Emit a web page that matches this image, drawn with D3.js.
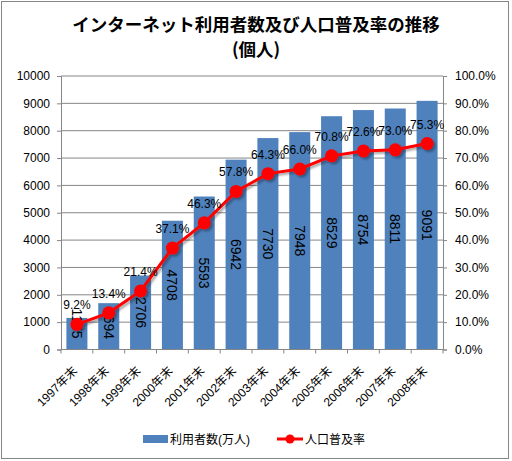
<!DOCTYPE html>
<html>
<head>
<meta charset="utf-8">
<script src="https://cdn.jsdelivr.net/npm/d3@7"></script>
<style>
body { margin: 0; background: #fff; }
text { font-family: "Liberation Sans", Arial, "Noto Sans CJK JP", sans-serif; }
</style>
</head>
<body>
<script>
// data
var years = ["1997年末","1998年末","1999年末","2000年末","2001年末","2002年末",
             "2003年末","2004年末","2005年末","2006年末","2007年末","2008年末"];
var users = [1155, 1694, 2706, 4708, 5593, 6942, 7730, 7948, 8529, 8754, 8811, 9091];
var rates = [9.2, 13.4, 21.4, 37.1, 46.3, 57.8, 64.3, 66.0, 70.8, 72.6, 73.0, 75.3];
var leftTicks = [0,1000,2000,3000,4000,5000,6000,7000,8000,9000,10000];
var rightTicks = [0,10,20,30,40,50,60,70,80,90,100];

var width = 512, height = 461;
// plot area edges (window.top is reserved, so use own names)
var plotLeft = 61, plotRight = 443, plotTop = 76, plotBottom = 349.5;
var barColor = "#4F81BD", lineColor = "#FF0000", grey = "#868686";

var svg = d3.select("body").append("svg")
    .attr("width", width)
    .attr("height", height);

var defs = svg.append("defs");
defs.append("filter").attr("id", "shadow")
    .attr("x", "-20%").attr("y", "-20%").attr("width", "140%").attr("height", "140%")
    .append("feDropShadow")
    .attr("dx", 2).attr("dy", 2).attr("stdDeviation", 1.2)
    .attr("flood-color", "#000").attr("flood-opacity", 0.35);

// chart border
svg.append("rect")
    .attr("x", 1.5).attr("y", 1.5)
    .attr("width", 507).attr("height", 457)
    .attr("fill", "#fff").attr("stroke", grey);

// title
svg.append("text")
    .attr("x", 256).attr("y", 31)
    .attr("text-anchor", "middle")
    .style("font-family", "'Noto Sans CJK JP', sans-serif")
    .style("font-size", "17.5px").style("font-weight", "bold")
    .text("インターネット利用者数及び人口普及率の推移");
svg.append("text")
    .attr("x", 256).attr("y", 56)
    .attr("text-anchor", "middle")
    .style("font-family", "'Noto Sans CJK JP', sans-serif")
    .style("font-size", "17.5px").style("font-weight", "bold")
    .text("(個人)");

var x = d3.scaleBand().domain(years).range([plotLeft, plotRight]).paddingInner(0.34).paddingOuter(0.17);
var xBand = d3.scaleBand().domain(years).range([plotLeft, plotRight]);
var y = d3.scaleLinear().domain([0, 10000]).range([plotBottom, plotTop]);
var y2 = d3.scaleLinear().domain([0, 100]).range([plotBottom, plotTop]);

// gridlines
svg.append("g").selectAll("line")
    .data(leftTicks.slice(1))
    .enter().append("line")
    .attr("x1", plotLeft).attr("x2", plotRight)
    .attr("y1", function(d){ return y(d); })
    .attr("y2", function(d){ return y(d); })
    .attr("stroke", grey).attr("stroke-width", 1);

// left axis
var yAxis = svg.append("g")
    .attr("transform", "translate(" + plotLeft + ",0)")
    .call(d3.axisLeft(y).tickValues(leftTicks).tickSize(4).tickPadding(7)
        .tickFormat(d3.format("d")));
yAxis.selectAll("line, path").attr("stroke", grey);
yAxis.selectAll("text").style("font-size", "12px").attr("fill", "#000");

// right axis
var y2Axis = svg.append("g")
    .attr("transform", "translate(" + plotRight + ",0)")
    .call(d3.axisRight(y2).tickValues(rightTicks).tickSize(4).tickPadding(8)
        .tickFormat(function(d){ return d3.format(".1f")(d) + "%"; }));
y2Axis.selectAll("line, path").attr("stroke", grey);
y2Axis.selectAll("text").style("font-size", "12px").attr("fill", "#000");

// bars
svg.append("g").selectAll("rect")
    .data(users)
    .enter().append("rect")
    .attr("x", function(d, i){ return x(years[i]); })
    .attr("width", x.bandwidth())
    .attr("y", function(d){ return y(d); })
    .attr("height", function(d){ return plotBottom - y(d); })
    .attr("fill", barColor);

// x axis with ticks at category edges
var xg = svg.append("g").attr("transform", "translate(0," + plotBottom + ")");
xg.append("line").attr("x1", plotLeft).attr("x2", plotRight)
    .attr("stroke", grey);
xg.selectAll(".tk")
    .data(years.concat(["end"]))
    .enter().append("line")
    .attr("x1", function(d, i){ return plotLeft + i * xBand.bandwidth(); })
    .attr("x2", function(d, i){ return plotLeft + i * xBand.bandwidth(); })
    .attr("y1", 0).attr("y2", 4)
    .attr("stroke", grey);
xg.selectAll(".lbl")
    .data(years)
    .enter().append("text")
    .attr("text-anchor", "end")
    .style("font-size", "12px")
    .attr("transform", function(d){
        var cx = xBand(d) + xBand.bandwidth() / 2 + 1;
        return "translate(" + cx + ",22) rotate(-45)";
    })
    .text(function(d){ return d; });

// bar value labels, rotated
svg.append("g").selectAll("text")
    .data(users)
    .enter().append("text")
    .attr("text-anchor", "middle")
    .attr("dominant-baseline", "central")
    .style("font-size", "14px")
    .attr("transform", function(d, i){
        var cx = x(years[i]) + x.bandwidth() / 2;
        var cy = Math.min((y(d) + plotBottom) / 2, plotBottom - 26);
        return "translate(" + cx + "," + cy + ") rotate(90)";
    })
    .text(function(d){ return d; });

// rate line
var line = d3.line()
    .x(function(d, i){ return xBand(years[i]) + xBand.bandwidth() / 2; })
    .y(function(d){ return y2(d); });

var lg = svg.append("g").attr("filter", "url(#shadow)");
lg.append("path")
    .datum(rates)
    .attr("d", line)
    .attr("fill", "none")
    .attr("stroke", lineColor)
    .attr("stroke-width", 3);
lg.selectAll("circle")
    .data(rates)
    .enter().append("circle")
    .attr("cx", function(d, i){ return xBand(years[i]) + xBand.bandwidth() / 2; })
    .attr("cy", function(d){ return y2(d); })
    .attr("r", 6.5)
    .attr("fill", lineColor);

svg.append("g").selectAll("text")
    .data(rates)
    .enter().append("text")
    .attr("text-anchor", "middle")
    .style("font-size", "12px")
    .attr("x", function(d, i){ return xBand(years[i]) + xBand.bandwidth() / 2; })
    .attr("y", function(d){ return y2(d) - 15; })
    .text(function(d){ return d3.format(".1f")(d) + "%"; });

// legend
var leg = svg.append("g");
leg.append("rect")
    .attr("x", 143).attr("y", 435).attr("width", 25).attr("height", 8)
    .attr("fill", barColor);
leg.append("text")
    .attr("x", 170).attr("y", 443.5)
    .style("font-size", "12px")
    .text("利用者数(万人)");
leg.append("line")
    .attr("x1", 277).attr("x2", 303).attr("y1", 439).attr("y2", 439)
    .attr("stroke", lineColor).attr("stroke-width", 3);
leg.append("circle")
    .attr("cx", 290).attr("cy", 439).attr("r", 4.5)
    .attr("fill", lineColor);
leg.append("text")
    .attr("x", 305).attr("y", 443.5)
    .style("font-size", "12px")
    .text("人口普及率");
</script>
</body>
</html>
